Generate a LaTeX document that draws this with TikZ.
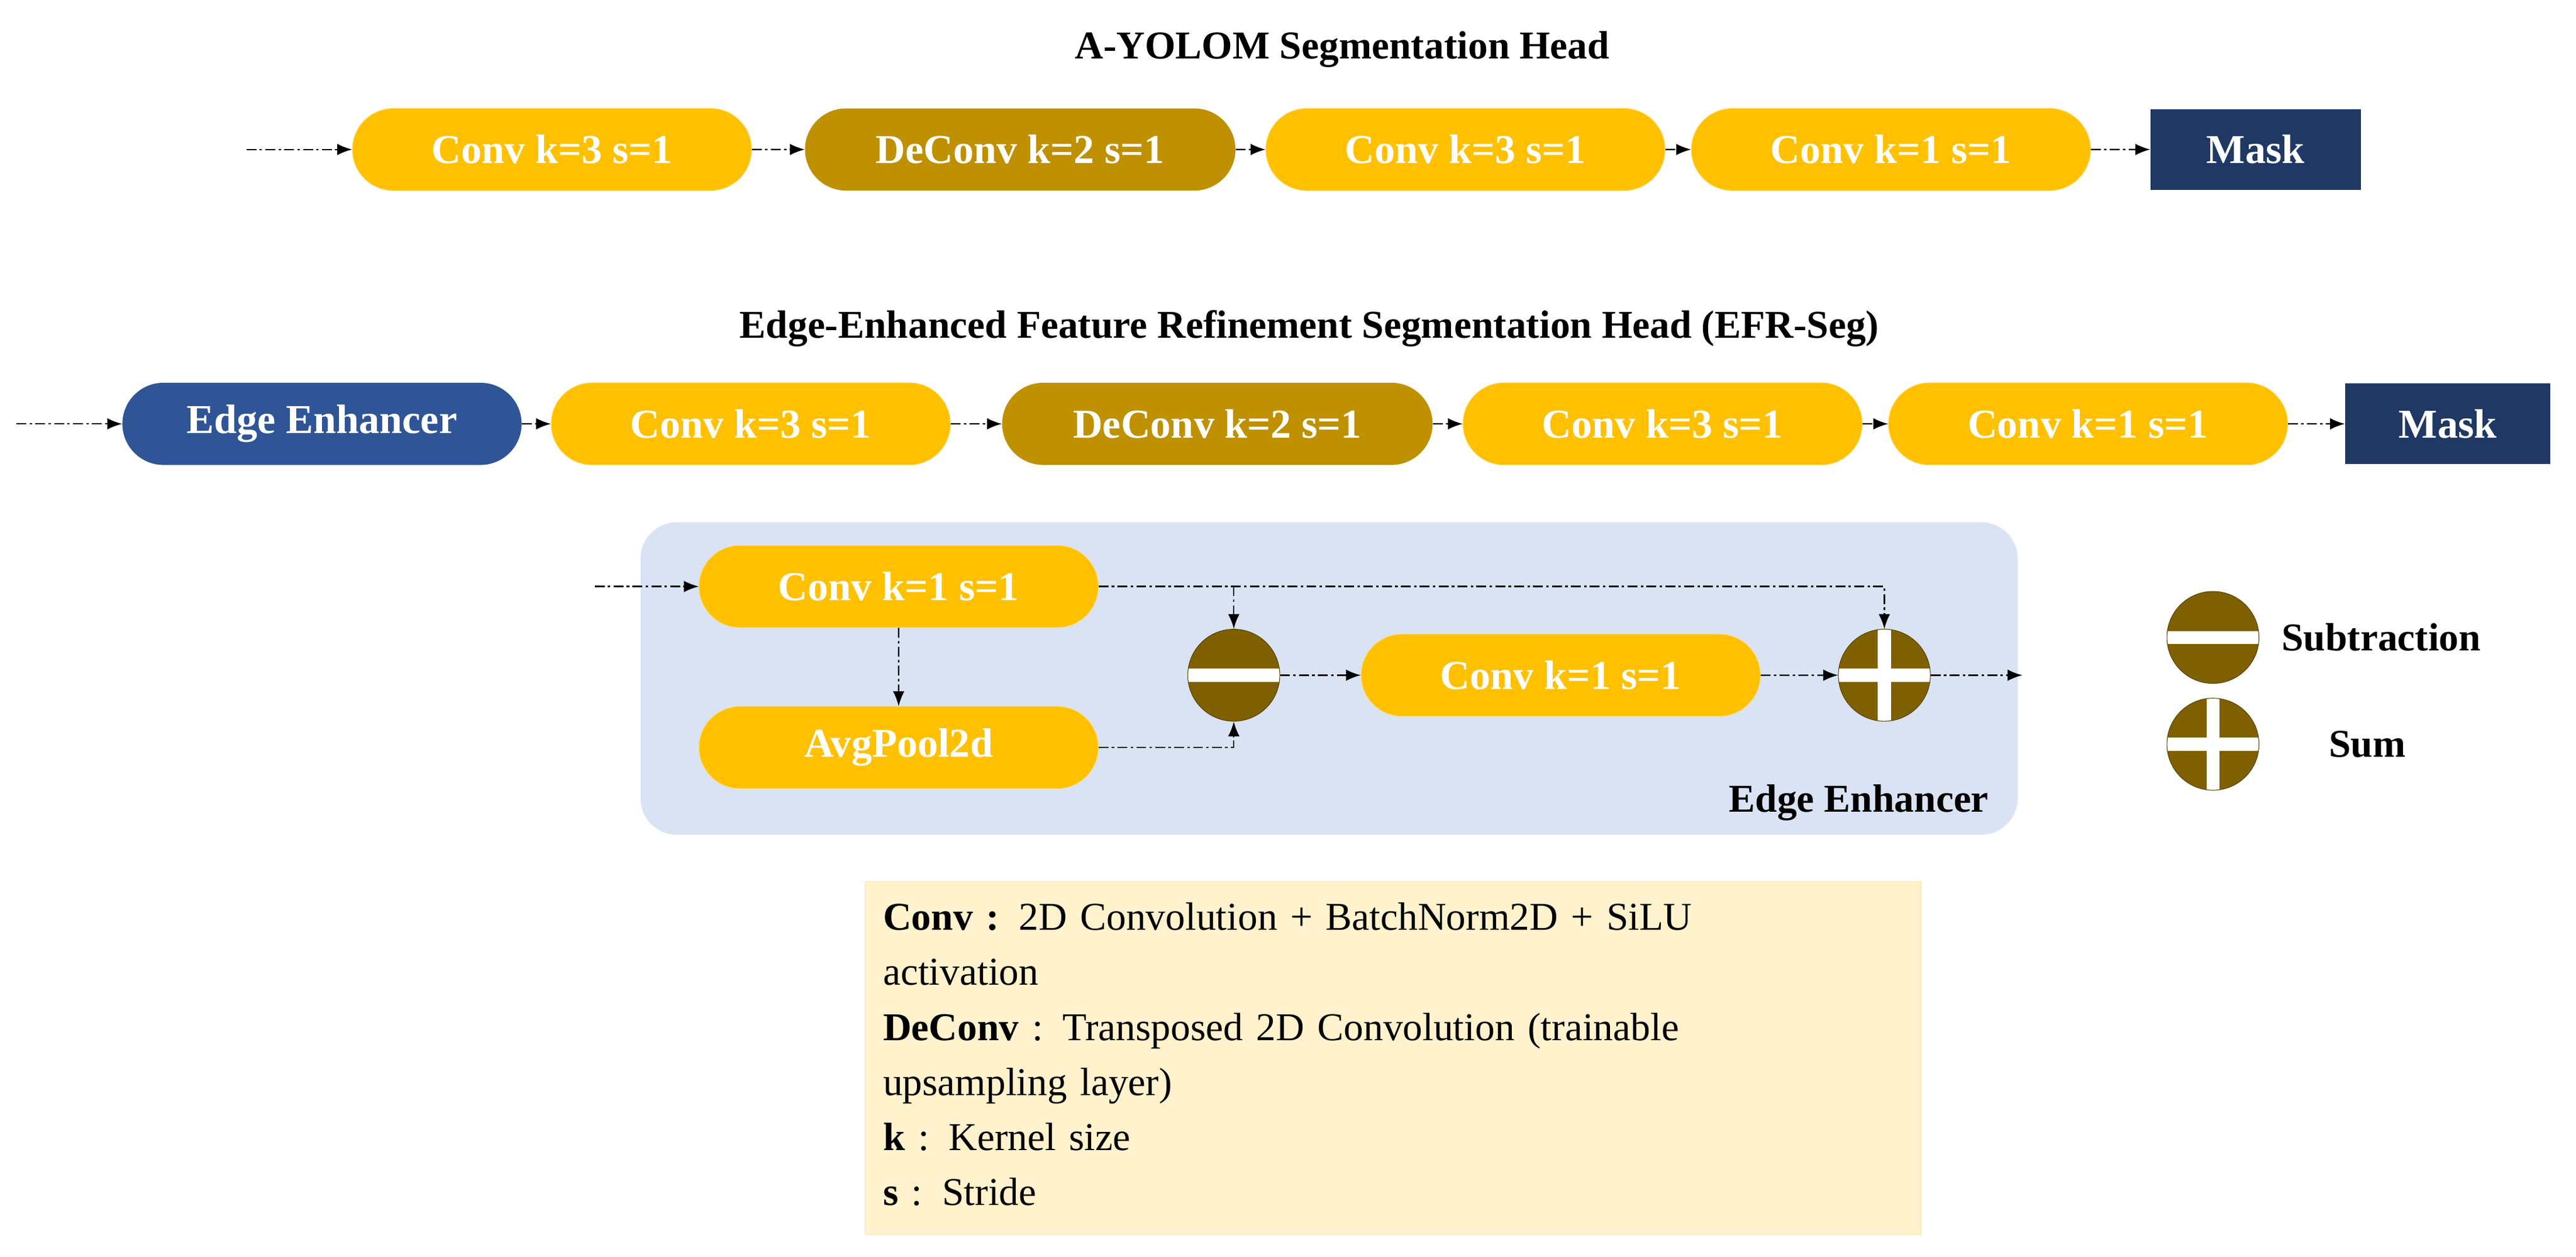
\documentclass[tikz,border=0pt]{standalone}
\usepackage{fontspec}
\setmainfont{Liberation Serif}
\usetikzlibrary{shapes.misc,arrows.meta,positioning}
\definecolor{convy}{HTML}{FFC000}
\definecolor{deconvy}{HTML}{BF9000}
\definecolor{edgeb}{HTML}{2F5597}
\definecolor{maskb}{HTML}{1F3864}
\definecolor{opbrown}{HTML}{7F6000}
\definecolor{panelb}{HTML}{DAE3F3}
\definecolor{notey}{HTML}{FFF2CC}
\tikzset{
  blk/.style={rounded rectangle, minimum width=243pt, minimum height=50pt, inner sep=0pt,
    font=\fontsize{25}{30}\selectfont\bfseries, text=white},
  conv/.style={blk, fill=convy, draw=convy!60!white},
  deconv/.style={blk, fill=deconvy},
  edge/.style={blk, fill=edgeb},
  mask/.style={rectangle, fill=maskb, minimum width=128pt, minimum height=49pt,
    font=\fontsize{25}{30}\selectfont\bfseries, text=white},
  op/.style={circle, fill=opbrown, draw=opbrown!70!black, minimum size=56pt, inner sep=0pt},
  subop/.style={op, path picture={\fill[white] ([yshift=-4pt]path picture bounding box.west) rectangle ([yshift=4pt]path picture bounding box.east);}},
  sumop/.style={subop, path picture={\fill[white] ([yshift=-4pt]path picture bounding box.west) rectangle ([yshift=4pt]path picture bounding box.east);
    \fill[white] ([xshift=-4pt]path picture bounding box.south) rectangle ([xshift=4pt]path picture bounding box.north);}},
  flow/.style={-{Latex[length=9pt,width=7pt]}, line width=0.8pt, dash pattern=on 6pt off 2pt on 1.5pt off 2pt},
  ttl/.style={font=\fontsize{24}{29}\selectfont\bfseries}
}
\begin{document}
\begin{tikzpicture}[x=1pt,y=-1pt]
\useasboundingbox (0,0) rectangle (1568,765);
% A-YOLOM head
\node[ttl] (t1) at (817,30) {A-YOLOM Segmentation Head};
\coordinate (in1) at (150,91);
\node[conv] (a1) at (336,91) {Conv k=3 s=1};
\node[deconv, minimum width=262pt] (a2) at (621,91) {DeConv k=2 s=1};
\node[conv] (a3) at (892,91) {Conv k=3 s=1};
\node[conv] (a4) at (1151,91) {Conv k=1 s=1};
\node[mask] (a5) at (1373,91) {Mask};
\draw[flow] (in1) -- (a1);
\draw[flow] (a1) -- (a2);
\draw[flow] (a2) -- (a3);
\draw[flow] (a3) -- (a4);
\draw[flow] (a4) -- (a5);
% EFR-Seg head
\node[ttl] (t2) at (797,200) {Edge-Enhanced Feature Refinement Segmentation Head (EFR-Seg)};
\coordinate (in2) at (10,258);
\node[edge] (b0) at (196,258) {Edge Enhancer};
\node[conv] (b1) at (457,258) {Conv k=3 s=1};
\node[deconv, minimum width=262pt] (b2) at (741,258) {DeConv k=2 s=1};
\node[conv] (b3) at (1012,258) {Conv k=3 s=1};
\node[conv] (b4) at (1271,258) {Conv k=1 s=1};
\node[mask, minimum width=125pt] (b5) at (1490,258) {Mask};
\draw[flow] (in2) -- (b0);
\draw[flow] (b0) -- (b1);
\draw[flow] (b1) -- (b2);
\draw[flow] (b2) -- (b3);
\draw[flow] (b3) -- (b4);
\draw[flow] (b4) -- (b5);
% edge enhancer detail
\node[rectangle, rounded corners=22pt, fill=panelb, draw=panelb!80!white, minimum width=838pt, minimum height=190pt] (panel) at (809,413) {};
\node[ttl, anchor=south east] (plab) at (1214,503) {Edge Enhancer};
\coordinate (in3) at (362,357);
\node[conv] (e1) at (547,357) {Conv k=1 s=1};
\node[conv] (e2) at (547,455) {AvgPool2d};
\node[subop] (sub) at (751,411) {};
\node[conv] (e3) at (950,411) {Conv k=1 s=1};
\node[sumop] (sum) at (1147,411) {};
\coordinate (out3) at (1231,411);
\draw[flow] (in3) -- (e1);
\draw[flow] (e1) -- (e2);
\draw[flow] (e2.east) -| (sub);
\draw[flow] (e1.east) -| (sum);
\draw[flow] (sub.north |- e1.east) -- (sub);
\draw[flow] (sub) -- (e3);
\draw[flow] (e3) -- (sum);
\draw[flow] (sum) -- (out3);
% legend
\node[subop] (lsub) at (1347,388) {};
\node[ttl, right=10pt of lsub] (lsubt) {Subtraction};
\node[sumop] (lsum) at (1347,453) {};
\node[ttl] (lsumt) at (1441,453) {Sum};
% notes
\node[rectangle, fill=notey, draw=notey!85!orange, minimum width=643pt, minimum height=215pt] (notebox) at (848,644) {};
\node[anchor=north west, align=left, text width=630pt, font=\fontsize{24}{33.5}\selectfont] (notes) at (534,546)
  {\textbf{Conv :} 2D Convolution + BatchNorm2D + SiLU\\activation\\
   \textbf{DeConv} : Transposed 2D Convolution (trainable\\upsampling layer)\\
   \textbf{k} : Kernel size\\\textbf{s} : Stride};
\end{tikzpicture}
\end{document}
